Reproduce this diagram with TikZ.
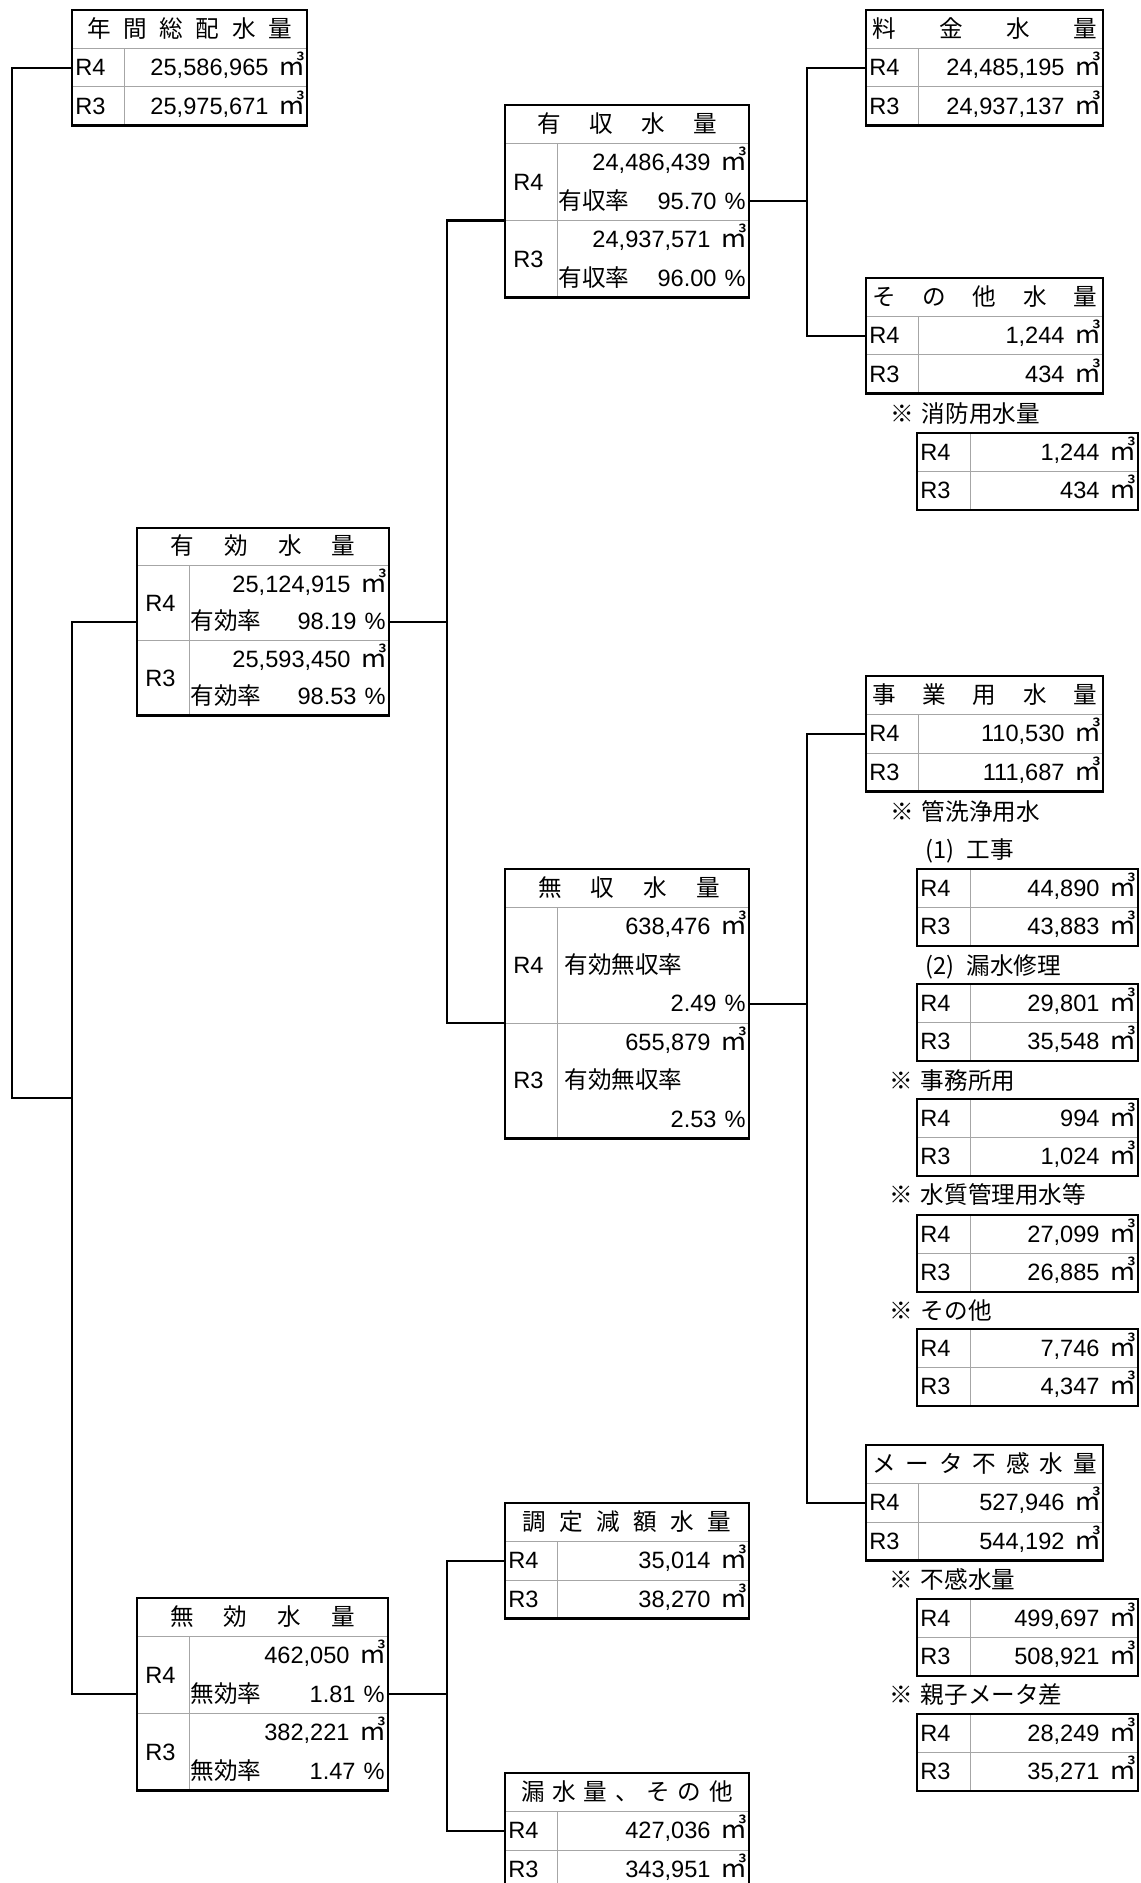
\documentclass[tikz,border=0pt]{standalone}
\usepackage{fontspec}
\setmainfont{Liberation Sans}
\newfontfamily\jp{Noto Sans CJK JP}
\usetikzlibrary{positioning}

\newcommand\rh{38.5}
\newcommand\sz{\fontsize{11.8pt}{13pt}\selectfont}
\newcommand\cube{{\jp\fontsize{13.5pt}{13.5pt}\selectfont ㎥}}

\tikzset{
  frame/.style={draw,line width=1.2pt,inner sep=0pt,outer sep=0pt,anchor=north west},
  rule/.style={draw=black!35,line width=0.5pt},
  link/.style={line width=1.1pt},
  txt/.style={inner sep=0pt,text height=8.2pt,text depth=0pt},
  lab/.style={txt,anchor=west},
  val/.style={txt,anchor=east},
  head/.style={txt,font=\sz\jp},
  note/.style={txt,anchor=west,font=\sz\jp},
}

% header + R4 + R3
\newcommand\qtybox[6]{%
  \draw[rule] (0,\rh) -- (#2,\rh) (0,2*\rh) -- (#2,2*\rh) (52,\rh) -- (52,3*\rh);
  \node[frame,minimum width={#2*0.5pt},minimum height={3*\rh*0.5pt}] (#1) at (0,0) {};
  \node[head] (#1-t) at (#2/2,\rh/2) {\makebox[\dimexpr#3pt/2\relax]{#4}};
  \node[lab] (#1-4) at (3,1.5*\rh) {R4};
  \node[val] (#1-4v) at (#2-1,1.5*\rh) {#5\hspace{5pt}\cube};
  \node[lab] (#1-3) at (3,2.5*\rh) {R3};
  \node[val] (#1-3v) at (#2-1,2.5*\rh) {#6\hspace{5pt}\cube};
}

% R4 + R3 only
\newcommand\pairbox[3]{%
  \draw[rule] (0,\rh) -- (221,\rh) (53,0) -- (53,2*\rh);
  \node[frame,minimum width=110.5pt,minimum height={2*\rh*0.5pt}] (#1) at (0,0) {};
  \node[lab] (#1-4) at (3,0.5*\rh) {R4};
  \node[val] (#1-4v) at (220,0.5*\rh) {#2\hspace{5pt}\cube};
  \node[lab] (#1-3) at (3,1.5*\rh) {R3};
  \node[val] (#1-3v) at (220,1.5*\rh) {#3\hspace{5pt}\cube};
}

% header + two lines per year
\newcommand\ratebox[9]{%
  \draw[rule] (0,\rh) -- (#2,\rh) (0,3*\rh) -- (#2,3*\rh) (52,\rh) -- (52,5*\rh);
  \node[frame,minimum width={#2*0.5pt},minimum height={5*\rh*0.5pt}] (#1) at (0,0) {};
  \coordinate (#1-mid) at (0,3*\rh);
  \node[head] (#1-t) at (#2/2,\rh/2) {\makebox[\dimexpr#3pt/2\relax]{#4}};
  \node[lab] (#1-4) at (8,2*\rh) {R4};
  \node[val] (#1-4v) at (#2-1,1.5*\rh) {#6\hspace{5pt}\cube};
  \node[lab,font=\sz\jp] (#1-4l) at (53,2.5*\rh) {#5};
  \node[val] (#1-4r) at (#2-3,2.5*\rh) {#7\hspace{4pt}\%};
  \node[lab] (#1-3) at (8,4*\rh) {R3};
  \node[val] (#1-3v) at (#2-1,3.5*\rh) {#8\hspace{5pt}\cube};
  \node[lab,font=\sz\jp] (#1-3l) at (53,4.5*\rh) {#5};
  \node[val] (#1-3r) at (#2-3,4.5*\rh) {#9\hspace{4pt}\%};
}

\begin{document}
\begin{tikzpicture}[x=0.5pt,y=-0.5pt,font=\sz]
\useasboundingbox (0,0) rectangle (1140,1883);
\fill[white] (0,0) rectangle (1140,1883);
\clip (0,0) rectangle (1140,1883);

% left column
\begin{scope}[shift={(72,10)}]
  \qtybox{A}{235}{205}{年\hfill 間\hfill 総\hfill 配\hfill 水\hfill 量}{25,586,965}{25,975,671}
\end{scope}
\begin{scope}[shift={(137,528)}]
  \def\rh{37.5}
  \ratebox{F}{252}{185}{有\hfill 効\hfill 水\hfill 量}{有効率}{25,124,915}{98.19}{25,593,450}{98.53}
\end{scope}
\begin{scope}[shift={(137,1598)}]
  \ratebox{R}{251}{185}{無\hfill 効\hfill 水\hfill 量}{無効率}{462,050}{1.81}{382,221}{1.47}
\end{scope}

% middle column
\begin{scope}[shift={(505,105)}]
  \ratebox{C}{244}{180}{有\hfill 収\hfill 水\hfill 量}{有収率}{24,486,439}{95.70}{24,937,571}{96.00}
\end{scope}
\begin{scope}[shift={(505,869)}]
  \draw[rule] (0,\rh) -- (244,\rh) (0,4*\rh) -- (244,4*\rh) (52,\rh) -- (52,7*\rh);
  \node[frame,minimum width=122pt,minimum height={7*\rh*0.5pt}] (M) at (0,0) {};
  \coordinate (M-mid) at (0,4*\rh);
  \node[head] (M-t) at (124,\rh/2) {\makebox[91pt]{無\hfill 収\hfill 水\hfill 量}};
  \node[lab] (M-4) at (8,2.5*\rh) {R4};
  \node[val] (M-4v) at (243,1.5*\rh) {638,476\hspace{5pt}\cube};
  \node[lab,font=\sz\jp] (M-4l) at (59,2.5*\rh) {有効無収率};
  \node[val] (M-4r) at (241,3.5*\rh) {2.49\hspace{4pt}\%};
  \node[lab] (M-3) at (8,5.5*\rh) {R3};
  \node[val] (M-3v) at (243,4.5*\rh) {655,879\hspace{5pt}\cube};
  \node[lab,font=\sz\jp] (M-3l) at (59,5.5*\rh) {有効無収率};
  \node[val] (M-3r) at (241,6.5*\rh) {2.53\hspace{4pt}\%};
\end{scope}
\begin{scope}[shift={(505,1503)}]
  \qtybox{Q}{244}{209}{調\hfill 定\hfill 減\hfill 額\hfill 水\hfill 量}{35,014}{38,270}
\end{scope}
\begin{scope}[shift={(505,1773)}]
  \qtybox{S}{244}{212}{漏\hfill 水\hfill 量\hfill 、\hfill そ\hfill の\hfill 他}{427,036}{343,951}
\end{scope}

% right column
\begin{scope}[shift={(866,10)}]
  \qtybox{B}{237}{225}{料\hfill 金\hfill 水\hfill 量}{24,485,195}{24,937,137}
\end{scope}
\begin{scope}[shift={(866,278)}]
  \qtybox{D}{237}{225}{そ\hfill の\hfill 他\hfill 水\hfill 量}{1,244}{434}
\end{scope}
\node[note] (n1) at (890,414) {※\hspace{4pt}消防用水量};
\begin{scope}[shift={(917,433)}]
  \pairbox{E}{1,244}{434}
\end{scope}

\begin{scope}[shift={(866,676)}]
  \qtybox{G}{237}{225}{事\hfill 業\hfill 用\hfill 水\hfill 量}{110,530}{111,687}
\end{scope}
\node[note] (n2) at (890,812) {※\hspace{4pt}管洗浄用水};
\node[note] (n3) at (925,850) {(1)\hspace{6pt}工事};
\begin{scope}[shift={(917,869)}]
  \pairbox{H}{44,890}{43,883}
\end{scope}
\node[note] (n4) at (925,966) {(2)\hspace{6pt}漏水修理};
\begin{scope}[shift={(917,984)}]
  \pairbox{I}{29,801}{35,548}
\end{scope}
\node[note] (n5) at (889,1081) {※\hspace{4pt}事務所用};
\begin{scope}[shift={(917,1099)}]
  \pairbox{J}{994}{1,024}
\end{scope}
\node[note] (n6) at (889,1195) {※\hspace{4pt}水質管理用水等};
\begin{scope}[shift={(917,1215)}]
  \pairbox{K}{27,099}{26,885}
\end{scope}
\node[note] (n7) at (889,1311) {※\hspace{4pt}その他};
\begin{scope}[shift={(917,1329)}]
  \pairbox{L}{7,746}{4,347}
\end{scope}

\begin{scope}[shift={(866,1445)}]
  \qtybox{N}{237}{225}{メ\hfill ー\hfill タ\hfill 不\hfill 感\hfill 水\hfill 量}{527,946}{544,192}
\end{scope}
\node[note] (n8) at (889,1580) {※\hspace{4pt}不感水量};
\begin{scope}[shift={(917,1599)}]
  \pairbox{O}{499,697}{508,921}
\end{scope}
\node[note] (n9) at (889,1695) {※\hspace{4pt}親子メータ差};
\begin{scope}[shift={(917,1714)}]
  \pairbox{P}{28,249}{35,271}
\end{scope}

% connectors
\coordinate (rail) at (12,1098);
\coordinate (bus1) at (72,1098);
\coordinate (bus2) at (447,0 |- F-4r);
\coordinate (bus3) at (807,0 |- C-4r);
\coordinate (bus4) at (807,0 |- M-4r);
\coordinate (bus5) at (447,0 |- R-4r);

\draw[link] (A.west |- A-4) -| (rail) -- (bus1);
\draw[link] (F.west |- F-4r) -| (bus1) |- (R.west |- R-4r);
\draw[link] (F.east |- F-4r) -- (bus2);
\draw[link] (C-mid) -| (bus2) |- (M-mid);
\draw[link] (C.east |- C-4r) -- (bus3);
\draw[link] (B.west |- B-4) -| (bus3) |- (D.west |- D-4);
\draw[link] (M.east |- M-4r) -- (bus4);
\draw[link] (G.west |- G-4) -| (bus4) |- (N.west |- N-4);
\draw[link] (R.east |- R-4r) -- (bus5);
\draw[link] (Q.west |- Q-4) -| (bus5) |- (S.west |- S-4);
\end{tikzpicture}
\end{document}
